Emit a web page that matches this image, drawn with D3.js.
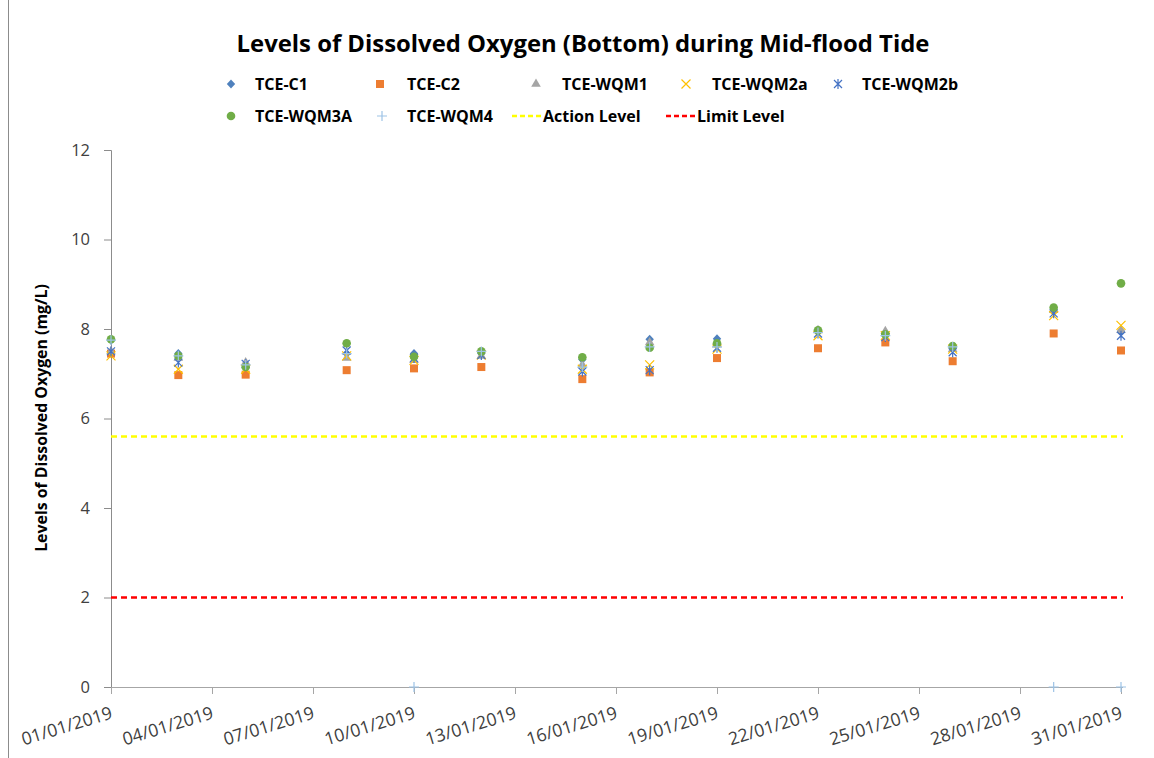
<!DOCTYPE html>
<html><head><meta charset="utf-8">
<script src="https://cdn.jsdelivr.net/npm/d3@7"></script>
<style>body{margin:0;background:#fff}svg{display:block}text{font-family:"Open Sans",Lato,sans-serif}</style>
</head><body><svg id="c" width="1154" height="758"></svg>
<script>
const dates = ["2019-01-01","2019-01-03","2019-01-05","2019-01-08","2019-01-10","2019-01-12","2019-01-15","2019-01-17","2019-01-19","2019-01-22","2019-01-24","2019-01-26","2019-01-29","2019-01-31"];
const seriesNames = ["TCE-C1","TCE-C2","TCE-WQM1","TCE-WQM2a","TCE-WQM2b","TCE-WQM3A","TCE-WQM4"];
const c1    = [7.75,7.45,7.20,7.45,7.45,7.45,7.32,7.77,7.78,7.95,7.85,7.58,8.40,7.95];
const c2    = [7.45,6.97,6.98,7.08,7.12,7.15,6.88,7.03,7.35,7.57,7.70,7.28,7.90,7.52];
const wqm1  = [7.50,7.35,7.25,7.35,7.30,7.40,7.20,7.70,7.65,7.97,7.95,7.55,8.42,7.97];
const wqm2a = [7.40,7.10,7.10,7.40,7.30,7.42,7.10,7.20,7.55,7.85,7.85,7.55,8.30,8.08];
const wqm2b = [7.50,7.25,7.22,7.52,7.35,7.42,7.05,7.08,7.58,7.90,7.82,7.48,8.35,7.85];
const wqm3a = [7.77,7.40,7.15,7.68,7.38,7.50,7.37,7.58,7.68,7.97,7.88,7.62,8.48,9.02];
const wqm4  = [7.75,7.40,7.20,7.45,0,7.50,7.15,7.60,7.60,7.92,7.85,7.60,0,0];
const actionLevel = 5.6, limitLevel = 2;
const yTicks = [0,2,4,6,8,10,12];
const xTickDates = ["2019-01-01","2019-01-04","2019-01-07","2019-01-10","2019-01-13","2019-01-16","2019-01-19","2019-01-22","2019-01-25","2019-01-28","2019-01-31"];

const parse = d3.utcParse("%Y-%m-%d");
const fmt = d3.utcFormat("%d/%m/%Y");
const svg = d3.select("#c");
const x = d3.scaleUtc().domain([parse("2019-01-01"), parse("2019-01-31")]).range([111, 1121]);
const y = d3.scaleLinear().domain([0,12]).range([687,150]);

function fitWidth(sel, size, target){ sel.attr("font-size",size); const w = sel.node().getComputedTextLength(); sel.attr("font-size", size*target/w); return size*target/w; }

// outer frame edge
svg.append("line").attr("x1",8.5).attr("x2",8.5).attr("y1",0).attr("y2",758).attr("stroke","#8c8c8c").attr("stroke-width",1);

// title
const title = svg.append("text").attr("x",583).attr("y",52).attr("text-anchor","middle")
  .attr("font-weight","bold").attr("fill","#000")
  .text("Levels of Dissolved Oxygen (Bottom) during Mid-flood Tide");
fitWidth(title, 22, 693);

// axes
const yAxis = d3.axisLeft(y).tickValues(yTicks).tickSize(7).tickPadding(14).tickFormat(d3.format("d"));
const gy = svg.append("g").attr("transform","translate(111,0)").call(yAxis);
gy.select(".domain").attr("stroke","#8c8c8c");
gy.selectAll(".tick line").attr("stroke","#8c8c8c");
gy.selectAll(".tick text").attr("font-size",16.5).attr("fill","#404040").attr("font-family","'Open Sans',sans-serif");

const xAxis = d3.axisBottom(x).tickValues(xTickDates.map(parse)).tickSize(7).tickSizeOuter(0).tickFormat(fmt);
const gx = svg.append("g").attr("transform","translate(0,687)").call(xAxis);
gx.select(".domain").attr("stroke","#a6a6a6").attr("d","M111,0.5H1123");
gx.selectAll(".tick line").attr("stroke","#a6a6a6");
const xt = gx.selectAll(".tick text").attr("fill","#404040").attr("font-family","'Open Sans',sans-serif")
  .attr("text-anchor","end").attr("dy",0).attr("y",0)
  .attr("transform","translate(2,31) rotate(-17)");
const xfs = fitWidth(d3.select(xt.node()), 16, 94);
xt.attr("font-size", xfs);

// y label
const yl = svg.append("text").attr("transform","translate(47,418) rotate(-90)").attr("text-anchor","middle")
  .attr("font-weight","bold").attr("fill","#000")
  .text("Levels of Dissolved Oxygen (mg/L)");
fitWidth(yl, 14, 268);

// reference lines
svg.append("line").attr("x1",111).attr("x2",1123).attr("y1",y(actionLevel)).attr("y2",y(actionLevel))
  .attr("stroke","#ffff00").attr("stroke-width",2.5).attr("stroke-dasharray","6,4");
svg.append("line").attr("x1",111).attr("x2",1123).attr("y1",y(limitLevel)).attr("y2",y(limitLevel))
  .attr("stroke","#ff0000").attr("stroke-width",2.5).attr("stroke-dasharray","6,4");

// markers
const colors = ["#4f81bd","#ed7d31","#a5a5a5","#ffc000","#4472c4","#70ad47","#9dc3e6"];
function marker(g, type, color){
  switch(type){
    case 0: g.append("path").attr("d","M0,-4.6L4.2,0L0,4.6L-4.2,0Z").attr("fill",color); break;
    case 1: g.append("rect").attr("x",-4).attr("y",-4).attr("width",8).attr("height",8).attr("fill",color); break;
    case 2: g.append("path").attr("d",d3.symbol(d3.symbolTriangle,40)()).attr("fill",color); break;
    case 3: g.append("path").attr("d","M-4.5,-4.5L4.5,4.5M-4.5,4.5L4.5,-4.5").attr("stroke",color).attr("stroke-width",1.2).attr("fill","none"); break;
    case 4: g.append("path").attr("d","M-4,-4L4,4M-4,4L4,-4M0,-5V5").attr("stroke",color).attr("stroke-width",1.2).attr("fill","none"); break;
    case 5: g.append("circle").attr("r",4.3).attr("fill",color); break;
    case 6: g.append("path").attr("d","M-5,0H5M0,-5V5").attr("stroke",color).attr("stroke-width",1.2).attr("fill","none"); break;
  }
}
const allSeries = [c1,c2,wqm1,wqm2a,wqm2b,wqm3a,wqm4];
allSeries.forEach((vals,si)=>{
  const g = svg.append("g");
  vals.forEach((v,i)=>{
    const m = g.append("g").attr("transform",`translate(${x(parse(dates[i]))},${y(v)})`);
    marker(m, si, colors[si]);
  });
});

// legend
const leg = svg.append("g");
const items = [
  {t:0,mx:231,my:84,tx:255},{t:1,mx:380,my:84,tx:407},{t:2,mx:536,my:84,tx:562},
  {t:3,mx:686,my:84,tx:712},{t:4,mx:838,my:84,tx:862},
  {t:5,mx:231,my:116,tx:255},{t:6,mx:382,my:116,tx:407}
];
items.forEach(it=>{
  const m = leg.append("g").attr("transform",`translate(${it.mx},${it.my})`);
  marker(m, it.t, colors[it.t]);
  leg.append("text").attr("x",it.tx).attr("y",it.my+5.5).attr("font-size",16).attr("font-weight","bold").text(seriesNames[it.t]);
});
leg.append("line").attr("x1",512).attr("x2",541).attr("y1",116).attr("y2",116).attr("stroke","#ffff00").attr("stroke-width",2.5).attr("stroke-dasharray","5,3");
leg.append("text").attr("x",543).attr("y",121.5).attr("font-size",16).attr("font-weight","bold").text("Action Level");
leg.append("line").attr("x1",666).attr("x2",695).attr("y1",116).attr("y2",116).attr("stroke","#ff0000").attr("stroke-width",2.5).attr("stroke-dasharray","5,3");
leg.append("text").attr("x",697).attr("y",121.5).attr("font-size",16).attr("font-weight","bold").text("Limit Level");
</script></body></html>
